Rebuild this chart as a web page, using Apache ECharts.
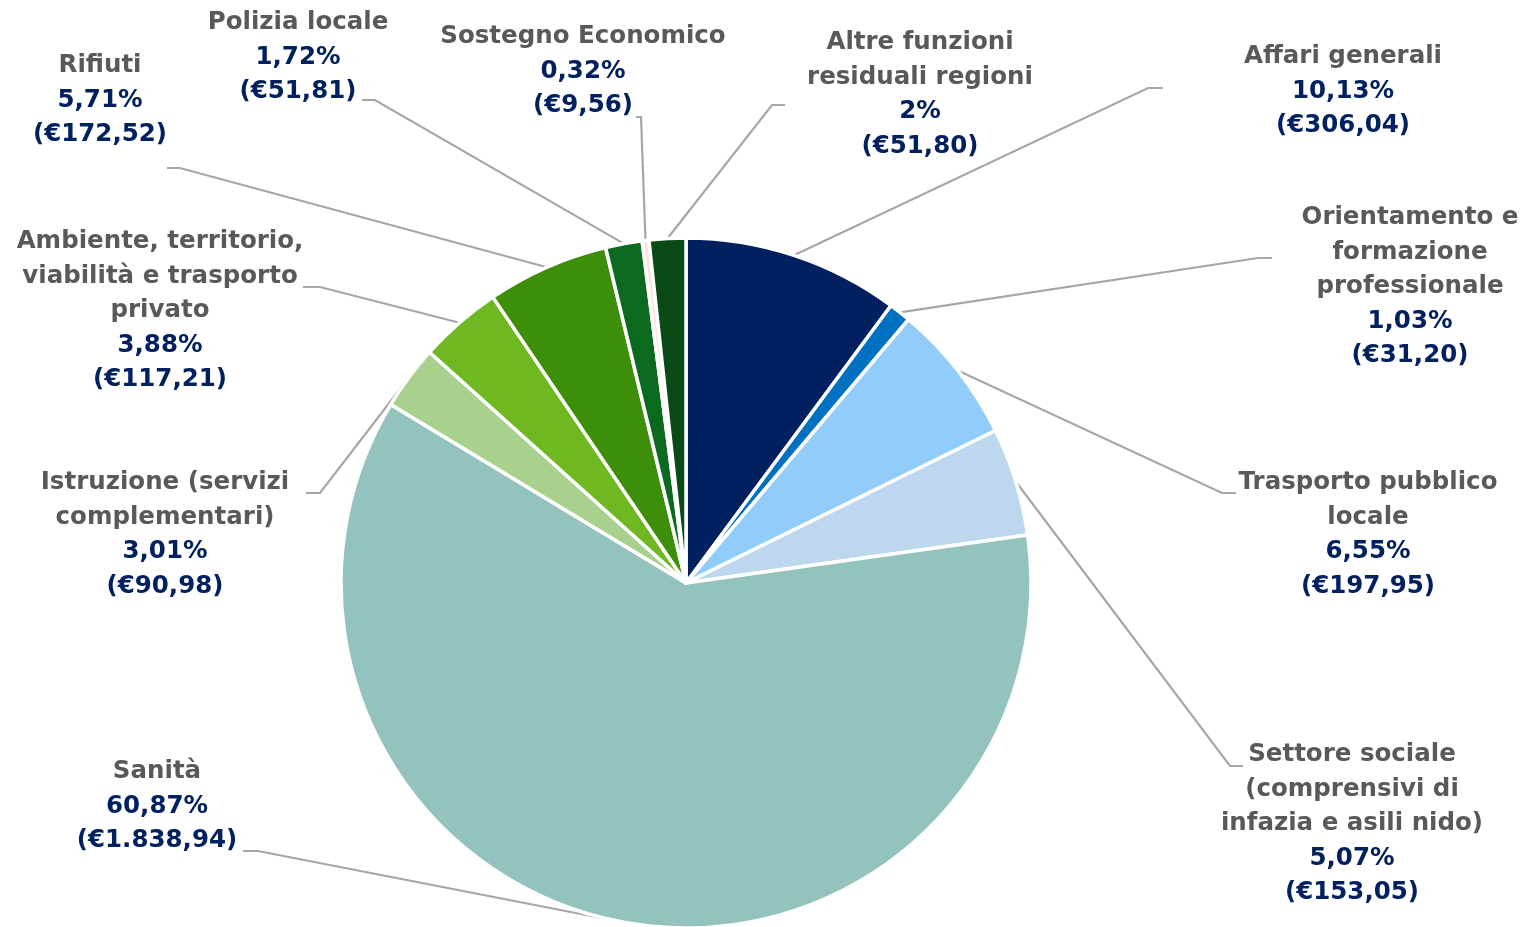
<!DOCTYPE html>
<html>
<head>
<meta charset="utf-8">
<script src="https://cdn.jsdelivr.net/npm/echarts@6/dist/echarts.min.js"></script>
<style>
 html,body{margin:0;padding:0;background:#fff;}
 #chart{width:1522px;height:927px;}
</style>
</head>
<body>
<div id="chart"></div>
<script>
// --- dati (spesa pro capite per funzione) ---
var nomi = [
 ['Affari generali'],
 ['Orientamento e','formazione','professionale'],
 ['Trasporto pubblico','locale'],
 ['Settore sociale','(comprensivi di','infazia e asili nido)'],
 ['Sanità'],
 ['Istruzione (servizi','complementari)'],
 ['Ambiente, territorio,','viabilità e trasporto','privato'],
 ['Rifiuti'],
 ['Polizia locale'],
 ['Sostegno Economico'],
 ['Altre funzioni','residuali regioni']
];
var euro = [306.04, 31.20, 197.95, 153.05, 1838.94, 90.98, 117.21, 172.52, 51.81, 9.56, 51.80];
var pct  = ['10,13%','1,03%','6,55%','5,07%','60,87%','3,01%','3,88%','5,71%','1,72%','0,32%','2%'];
var colori = ['#002060','#0070C0','#92CCFA','#BDD7EE','#93C3BC','#A9D18E',
              '#6FB822','#3D8E08','#0B6A20','#FCE6D8','#0A4A16'];

// posizione etichette: centro x, y prima riga, gomito e fine della linea guida
var etichette = [
 {x:1343, y:57,  p1:[1148,88],  p2:[1163,88]},
 {x:1410, y:218, p1:[1258,258], p2:[1272,258]},
 {x:1368, y:483, p1:[1222,493], p2:[1236,493]},
 {x:1352, y:755, p1:[1230,766], p2:[1243,766]},
 {x:157,  y:772, p1:[258,851],  p2:[243,851]},
 {x:165,  y:483, p1:[320,493],  p2:[306,493]},
 {x:160,  y:242, p1:[320,287],  p2:[303,287]},
 {x:100,  y:66,  p1:[180,168],  p2:[167,168]},
 {x:298,  y:23,  p1:[375,100],  p2:[362,100]},
 {x:583,  y:37,  p1:[641,117],  p2:[636,117]},
 {x:920,  y:43,  p1:[772,105],  p2:[785,105]}
];
var LH = 34.5;
var FS = 24.5;

function eur(v){
 var s = v.toFixed(2).split('.');
 var i = s[0].replace(/\B(?=(\d{3})+(?!\d))/g,'.');
 return '(€' + i + ',' + s[1] + ')';
}

var dati = euro.map(function(v,i){
 return {value:v, name:nomi[i].join(' '), itemStyle:{color:colori[i]}};
});

var chart = echarts.init(document.getElementById('chart'));
chart.setOption({
 backgroundColor:'#fff',
 animation:false,
 series:[{
  type:'pie',
  center:[686,583],
  radius:345,
  startAngle:90,
  clockwise:true,
  avoidLabelOverlap:false,
  minShowLabelAngle:0,
  data:dati,
  itemStyle:{borderColor:'#fff',borderWidth:3.5},
  label:{
   show:true,
   position:'outside',
   formatter:function(p){
    var i = p.dataIndex;
    var righe = nomi[i].map(function(t){return '{n|'+t+'}';});
    righe.push('{v|'+pct[i]+'}');
    righe.push('{v|'+eur(euro[i])+'}');
    return righe.join('\n');
   },
   align:'center',
   rich:{
    n:{fontFamily:'DejaVu Sans',fontWeight:'bold',fontSize:FS,color:'#595959',lineHeight:LH,align:'center'},
    v:{fontFamily:'DejaVu Sans',fontWeight:'bold',fontSize:FS,color:'#002060',lineHeight:LH,align:'center'}
   }
  },
  labelLine:{show:true,length:20,length2:10,lineStyle:{color:'#A6A6A6',width:2.2}},
  labelLayout:function(params){
   var e = etichette[params.dataIndex];
   var p0 = params.labelLinePoints ? params.labelLinePoints[0] : e.p1;
   return {
    x:e.x, y:e.y - LH/2,
    align:'center', verticalAlign:'top',
    labelLinePoints:[p0, e.p1, e.p2]
   };
  }
 }]
});
</script>
</body>
</html>
